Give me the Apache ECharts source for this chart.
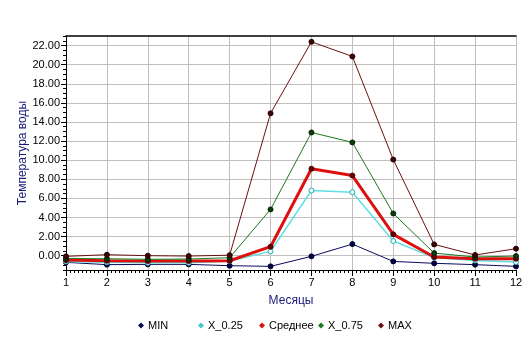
<!DOCTYPE html>
<html>
<head>
<meta charset="utf-8">
<script src="https://cdn.jsdelivr.net/npm/echarts@6/dist/echarts.min.js"></script>
<style>
  html, body { margin: 0; padding: 0; background: #fff; }
  #chart { width: 532px; height: 347px; }
</style>
</head>
<body>
<div id="chart"></div>
<script>
// Monthly water temperature statistics
const months = [1, 2, 3, 4, 5, 6, 7, 8, 9, 10, 11, 12];
const minVals  = [-0.70, -0.94, -0.91, -0.91, -1.05, -1.12, -0.07, 1.21, -0.60, -0.80, -0.94, -1.12];
const q25Vals  = [-0.60, -0.70, -0.74, -0.74, -0.55, 0.45, 6.82, 6.65, 1.53, -0.20, -0.50, -0.67];
const meanVals = [-0.46, -0.53, -0.56, -0.56, -0.53, 0.94, 9.10, 8.39, 2.23, -0.14, -0.32, -0.32];
const q75Vals  = [-0.30, -0.32, -0.38, -0.35, -0.21, 4.84, 12.90, 11.86, 4.42, 0.27, -0.14, -0.04];
const maxVals  = [-0.07, 0.10, 0.00, -0.04, 0.05, 14.90, 22.39, 20.86, 10.06, 1.18, 0.07, 0.73];
const yTicks = [0, 2, 4, 6, 8, 10, 12, 14, 16, 18, 20, 22];
const seriesNames = ['MIN', 'X_0.25', 'Среднее', 'X_0.75', 'MAX'];

const pairs = vals => months.map((m, i) => [m, vals[i]]);

const styles = [
  { data: minVals,  line: '#0b0b5c', width: 1,   mark: '#00003a', border: '#00003a' },
  { data: q25Vals,  line: '#5fdfe3', width: 1.5, mark: '#e8ffff', border: '#2aa9ad' },
  { data: meanVals, line: '#dd1010', width: 3,   mark: '#6a0000', border: '#4a0000' },
  { data: q75Vals,  line: '#1a7a1a', width: 1,   mark: '#0b3a0b', border: '#052505' },
  { data: maxVals,  line: '#6b1010', width: 1,   mark: '#3a0505', border: '#2a0000' }
];

// one legend block per series so that entries sit on a fixed pitch
const legendLeft = [138, 198, 259, 318, 378];
const legendColors = ['#0b0b5c', '#3fc9cd', '#dd1010', '#1a7a1a', '#6b1010'];

const chart = echarts.init(document.getElementById('chart'), null, { renderer: 'canvas' });

const font = 'Arial, "Liberation Sans", sans-serif';

chart.setOption({
  animation: false,
  backgroundColor: '#ffffff',
  grid: { left: 66, right: 16, top: 36, bottom: 77, containLabel: false },
  legend: seriesNames.map((n, i) => ({
    data: [{ name: n, itemStyle: { color: legendColors[i], borderWidth: 0 } }],
    left: legendLeft[i], top: 320, padding: 0,
    icon: 'diamond', itemWidth: 6, itemHeight: 6, itemGap: 0,
    itemStyle: { color: legendColors[i], borderWidth: 0 },
    textStyle: { fontFamily: font, fontSize: 11, color: '#000', padding: [0, 0, 0, -1] },
    selectedMode: false
  })),
  xAxis: [{
    type: 'value', min: 1, max: 12, interval: 1,
    name: 'Месяцы', nameLocation: 'middle', nameGap: 25,
    nameTextStyle: { fontFamily: font, fontSize: 12, color: '#1a1a7a' },
    axisLine: { show: true, onZero: false, lineStyle: { color: '#000', width: 1 } },
    axisTick: { show: true, length: 6, lineStyle: { color: '#000' } },
    minorTick: { show: true, splitNumber: 10, length: 3, lineStyle: { color: '#000' } },
    axisLabel: { fontFamily: font, fontSize: 11, color: '#000', margin: 7 },
    splitLine: { show: true, lineStyle: { color: '#c0c0c0', width: 1 } }
  }, {
    type: 'value', min: 1, max: 12, position: 'top',
    axisLine: { show: true, onZero: false, lineStyle: { color: '#000', width: 1.5 } },
    axisTick: { show: false }, axisLabel: { show: false }, splitLine: { show: false }
  }],
  yAxis: [{
    type: 'value', min: -1.5, max: 23,
    name: 'Температура воды', nameLocation: 'middle', nameGap: 37, nameMoveOverlap: false,
    nameTextStyle: { fontFamily: font, fontSize: 12, color: '#1a1a7a' },
    axisLine: { show: true, onZero: false, lineStyle: { color: '#000', width: 1 } },
    axisTick: { show: true, length: 5, customValues: yTicks, lineStyle: { color: '#000' } },
    axisLabel: { fontFamily: font, fontSize: 11, color: '#000', margin: 6,
      customValues: yTicks, formatter: v => v.toFixed(2) },
    splitLine: { show: true, lineStyle: { color: '#c0c0c0', width: 1 } }
  }, {
    type: 'value', min: -1.5, max: 23, interval: 0.5, position: 'left',
    axisLine: { show: false },
    axisTick: { show: true, length: 3, lineStyle: { color: '#000' } },
    axisLabel: { show: false }, splitLine: { show: false }
  }],
  series: styles.map((s, i) => ({
    name: seriesNames[i],
    type: 'line',
    xAxisIndex: 0, yAxisIndex: 0,
    data: pairs(s.data),
    symbol: 'circle', symbolSize: 5,
    lineStyle: { color: s.line, width: s.width },
    itemStyle: { color: s.mark, borderColor: s.border, borderWidth: 1 },
    z: 2 + i
  }))
});
</script>
</body>
</html>
